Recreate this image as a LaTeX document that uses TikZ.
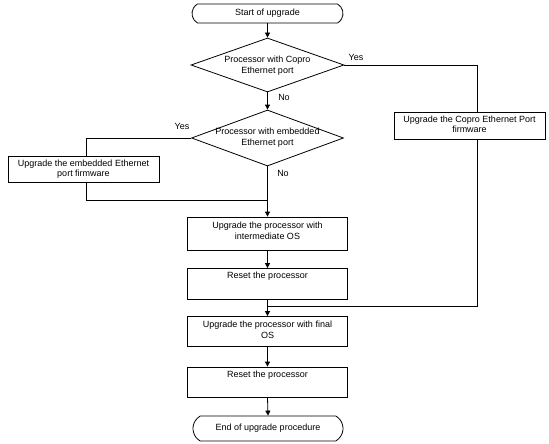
\documentclass[tikz,border=0pt]{standalone}
\usepackage{fontspec}
\setmainfont{Liberation Sans}
\usetikzlibrary{shapes.geometric,shapes.misc,arrows.meta}
\begin{document}
\begin{tikzpicture}[x=1pt,y=-1pt,
  every node/.style={font=\fontsize{9}{10.5}\selectfont},
  ln/.style={line width=0.8pt,black},
  arr/.style={ln,-{Triangle[length=5pt,width=5pt]}},
  term/.style={draw,line width=0.8pt,rounded rectangle,rounded rectangle arc length=120,minimum width=151pt,minimum height=19pt,inner sep=0pt},
  decision/.style={draw,line width=0.8pt,diamond,inner sep=0pt,minimum width=153pt,minimum height=54pt},
  procbox/.style={draw,line width=0.8pt,rectangle,inner sep=0pt},
  txt/.style={align=center,inner sep=0pt},
  lab/.style={inner sep=0pt}
]
\useasboundingbox (0,0) rectangle (549,444);

% nodes
\node[term] (start) at (267.5,13.5) {Start of upgrade};
\node[decision] (d1) at (267.5,65) {};
\node[txt] (d1t) at (267.5,65.5) {Processor with Copro\\Ethernet port};
\node[decision,minimum height=56pt,minimum width=152pt] (d2) at (267.5,138) {};
\node[txt] (d2t) at (267.5,137.5) {Processor with embedded\\Ethernet port};
\node[procbox,minimum width=151pt,minimum height=27pt] (copro) at (469.5,125.5) {};
\node[txt] (coprot) at (469.5,124.5) {Upgrade the Copro Ethernet Port\\firmware};
\node[procbox,minimum width=151pt,minimum height=26pt] (emb) at (83.5,169) {};
\node[txt] (embt) at (83.5,169) {Upgrade the embedded Ethernet\\port firmware};
\node[procbox,minimum width=160pt,minimum height=33pt] (interm) at (267.5,233.5) {};
\node[txt] (intermt) at (267.5,231) {Upgrade the processor with\\intermediate OS};
\node[procbox,minimum width=160pt,minimum height=31pt] (reset1) at (267.5,284) {};
\node[txt,anchor=north] (reset1t) at ([yshift=-4pt]reset1.north) {Reset the processor};
\node[procbox,minimum width=160pt,minimum height=30pt] (final) at (267.5,331.5) {};
\node[txt] (finalt) at (267.5,330) {Upgrade the processor with final\\OS};
\node[procbox,minimum width=160pt,minimum height=30pt] (reset2) at (267.5,382) {};
\node[txt,anchor=north] (reset2t) at ([yshift=-4pt]reset2.north) {Reset the processor};
\node[term,minimum width=150pt,minimum height=25pt] (endn) at (268,428.5) {End of upgrade procedure};

% junction coordinates
\coordinate (c1) at (477,65);
\coordinate (c2) at (477,306);
\coordinate (j2) at (267.5,306);
\coordinate (c3) at (86,138);
\coordinate (c4) at (86,200);
\coordinate (j1) at (267.5,200);

% connectors
\draw[arr] (start.south) -- (d1.north);
\draw[arr] (d1.south) -- (d2.north);
\draw[ln] (d1.east) -- (c1) -- (copro.north -| c1);
\draw[ln] (copro.south -| c1) -- (c2) -- (j2);
\draw[ln] (d2.west) -- (c3) -- (emb.north -| c3);
\draw[ln] (emb.south -| c3) -- (c4) -- (j1);
\draw[arr] (d2.south) -- (interm.north);
\draw[arr] (interm.south) -- (reset1.north);
\draw[arr] (reset1.south) -- (final.north);
\draw[arr] (final.south) -- (reset2.north);
\draw[arr] (reset2.south) -- (endn.north);

% labels
\node[lab] (yes1) at (356,57) {Yes};
\node[lab] (no1) at (284,97.5) {No};
\node[lab] (yes2) at (182,126) {Yes};
\node[lab] (no2) at (283,173.5) {No};
\end{tikzpicture}
\end{document}
